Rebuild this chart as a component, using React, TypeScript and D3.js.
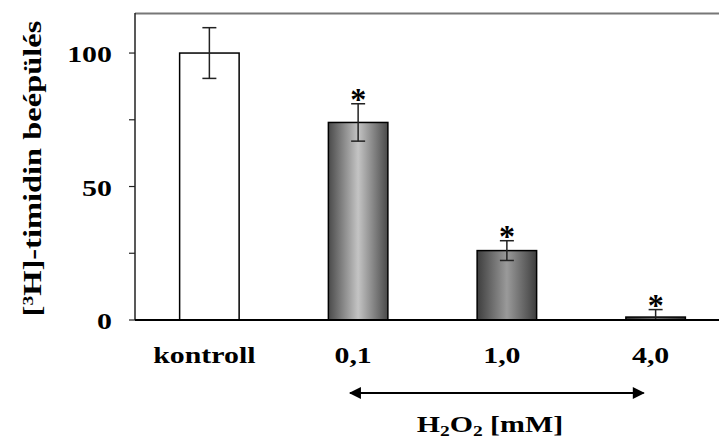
import React from 'react';
import * as d3 from 'd3';

const categories = ['kontroll', '0,1', '1,0', '4,0'];
const values = [100, 74, 26, 1.1];
const errors = [9.5, 7, 3.7, 2.8];
const significant = [false, true, true, true];
const yTicks = [0, 50, 100];
const yMinorTicks = [0, 25, 50, 75, 100];

// light/dark for each bar's cylinder look
const shades = [
  null,
  { mid: '#c4c4c4', edge: '#4a4a4a' },
  { mid: '#9a9a9a', edge: '#3e3e3e' },
  { mid: '#707070', edge: '#303030' },
];

const W = 719;
const H = 440;
const margin = { left: 135, top: 13, right: 0, bottom: 120 };
const font = '"Liberation Serif", "Times New Roman", serif';
const STRETCH = 1.3; // the original lettering is wide

// text that is widened along its own direction
const Wide = ({ x, y, rotate = 0, anchor = 'middle', size = 22, children }) => (
  <text transform={`translate(${x},${y}) rotate(${rotate}) scale(${STRETCH},1)`}
    textAnchor={anchor} fontSize={size} fontWeight="bold">{children}</text>
);

const App = () => {
  const x = d3.scaleBand().domain(categories).range([135, 730]).paddingInner(0.6).paddingOuter(0.3);
  const y = d3.scaleLinear().domain([0, 115]).range([H - margin.bottom, margin.top]);
  const bw = x.bandwidth();

  const cx = (c) => (x(c) as number) + bw / 2;
  const arrowY = 393;
  const x1 = cx('0,1') - 10;
  const x2 = cx('4,0') - 10;

  return (
    <svg width={W} height={H} style={{ position: 'absolute', left: 0, top: 0, background: '#fff' }} fontFamily={font}>
      <defs>
        {shades.map((s, i) => s && (
          <linearGradient key={i} id={`g${i}`} x1="0" x2="1" y1="0" y2="0">
            <stop offset="0" stopColor={s.edge} />
            <stop offset="0.5" stopColor={s.mid} />
            <stop offset="1" stopColor={s.edge} />
          </linearGradient>
        ))}
        <marker id="ah" viewBox="0 0 10 10" refX="9" refY="5" markerWidth="15" markerHeight="12" markerUnits="userSpaceOnUse" orient="auto-start-reverse">
          <path d="M0,0 L10,5 L0,10 z" fill="#000" />
        </marker>
      </defs>

      {/* frame top */}
      <line x1={margin.left} x2={W} y1={margin.top + 0.5} y2={margin.top + 0.5} stroke="#777" strokeWidth={2} />
      {/* y axis */}
      <line x1={margin.left} x2={margin.left} y1={margin.top} y2={y(0)} stroke="#222" strokeWidth={1.5} />
      {yMinorTicks.map(t => (
        <line key={t} x1={margin.left - 6} x2={margin.left} y1={y(t)} y2={y(t)} stroke="#222" strokeWidth={1.2} />
      ))}
      {yTicks.map(t => (
        <Wide key={t} x={112} y={y(t) + 9} anchor="end" size={23}>{t}</Wide>
      ))}
      <Wide x={41} y={(margin.top + y(0)) / 2 + 2} rotate={-90} size={25}>
        [<tspan baselineShift="super" fontSize={15}>3</tspan>H]-timidin beépülés
      </Wide>

      {/* bars */}
      {categories.map((c, i) => {
        const top = y(values[i]);
        const eHi = y(values[i] + errors[i]);
        const eLo = Math.min(y(values[i] - errors[i]), y(0));
        const m = cx(c);
        return (
          <g key={c}>
            <rect x={x(c)} y={top} width={bw} height={y(0) - top}
              fill={shades[i] ? `url(#g${i})` : '#fff'} stroke="#000" strokeWidth={1.5} />
            <line x1={m} x2={m} y1={eHi} y2={eLo} stroke="#222" strokeWidth={1.5} />
            <line x1={m - 7} x2={m + 7} y1={eHi} y2={eHi} stroke="#222" strokeWidth={1.5} />
            {y(values[i] - errors[i]) < y(0) && (
              <line x1={m - 7} x2={m + 7} y1={eLo} y2={eLo} stroke="#222" strokeWidth={1.5} />
            )}
            {significant[i] && (
              <text x={m} y={eHi + 6} textAnchor="middle" fontSize={32} fontWeight="bold">*</text>
            )}
          </g>
        );
      })}
      {/* baseline */}
      <line x1={margin.left} x2={W} y1={y(0)} y2={y(0)} stroke="#000" strokeWidth={2} />

      {categories.map(c => (
        <Wide key={c} x={cx(c) - 5} y={363} size={23}>{c}</Wide>
      ))}

      <line x1={x1 + 2} x2={x2 - 2} y1={arrowY} y2={arrowY} stroke="#000" strokeWidth={2}
        markerStart="url(#ah)" markerEnd="url(#ah)" />
      <Wide x={(x1 + x2) / 2 - 7} y={432} size={23}>
        H<tspan fontSize={15} dy={4}>2</tspan><tspan dy={-4}>O</tspan><tspan fontSize={15} dy={4}>2</tspan><tspan dy={-4}> [mM]</tspan>
      </Wide>
    </svg>
  );
};

export default App;
